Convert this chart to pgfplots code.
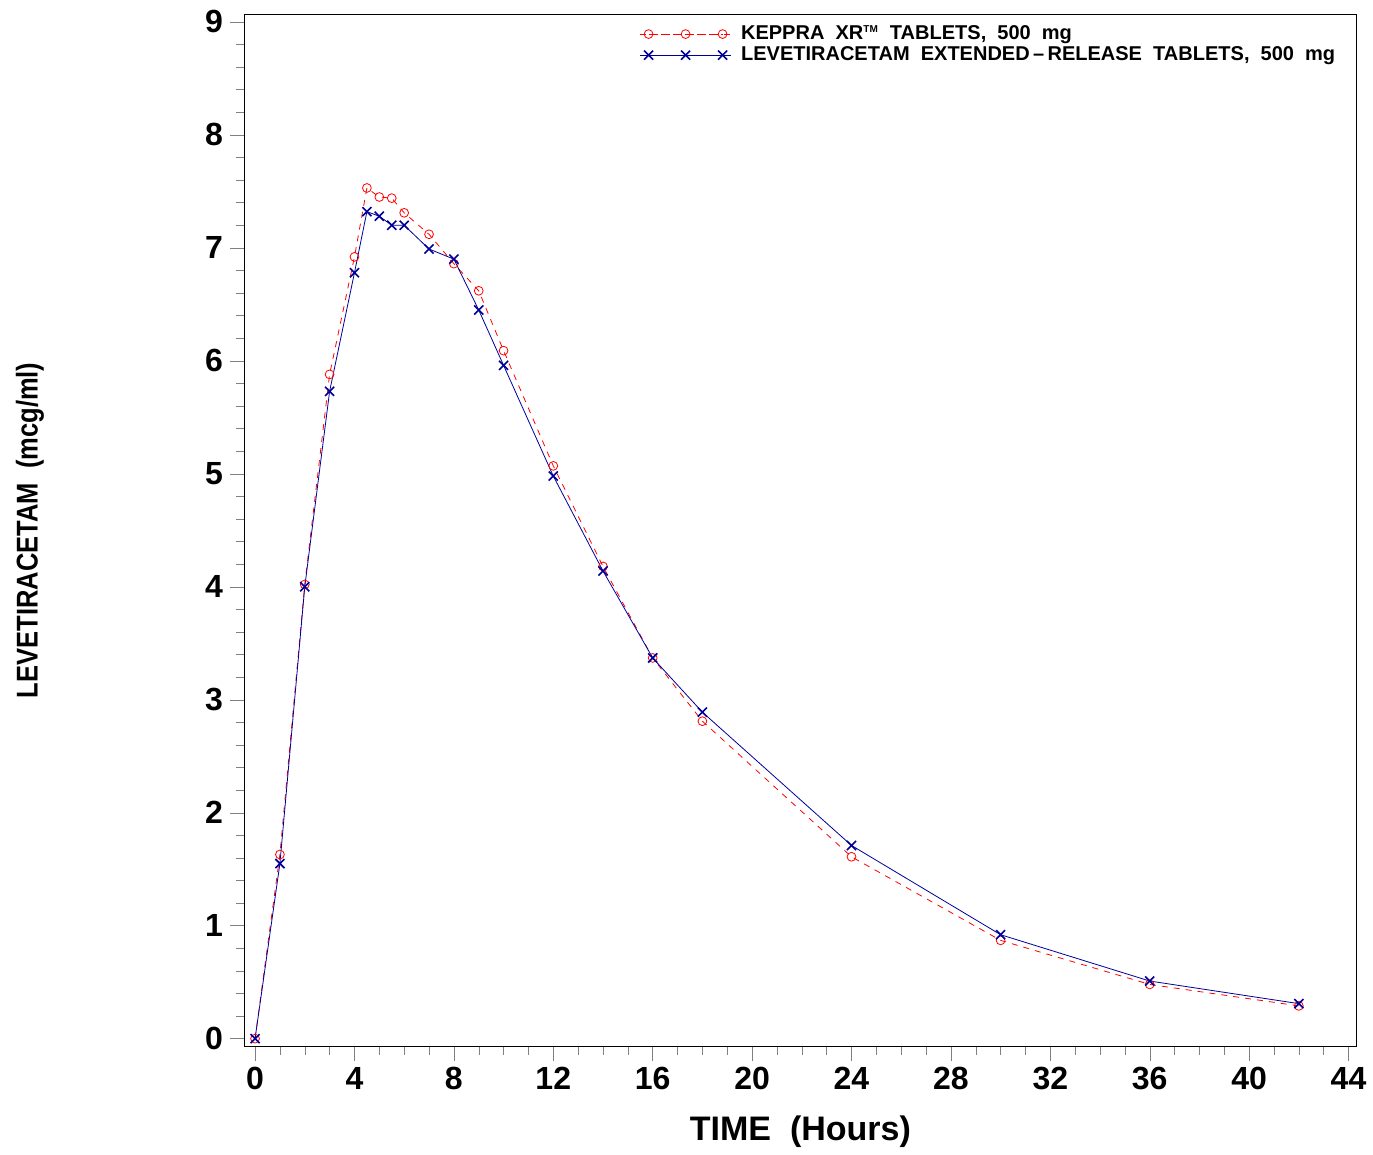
\documentclass[border=0pt]{standalone}
\usepackage{pgfplots}
\pgfplotsset{compat=1.18}
\usepackage{fontspec}
\setmainfont{Liberation Sans}
\begin{document}
\begin{tikzpicture}
\path (-122pt,-51pt) rectangle (564pt,523pt);
\begin{axis}[scale only axis, width=556pt, height=516pt, at={(0,0)},
 xmin=-0.44, xmax=44.33, ymin=-0.07, ymax=9.07,
 xtick={0,4,...,44}, ytick={0,1,...,9},
 minor x tick num=3, minor y tick num=4,
 tick align=outside, xtick pos=bottom, ytick pos=left,
 major tick length=7pt, minor tick length=4pt,
 /pgf/number format/assume math mode=true,
 ticklabel style={font=\fontsize{16}{16}\selectfont\bfseries},
 xlabel={\fontsize{17}{17}\selectfont\bfseries TIME\ \ (Hours)},
 xlabel style={yshift=-6pt},
 legend style={draw=none, at={(0.99,0.997)}, anchor=north east, font=\fontsize{10}{11}\selectfont\bfseries, row sep=-2pt, fill=none},
 legend cell align=left,
 legend image code/.code={\draw[#1] (0cm,0cm) -- (1.6cm,0cm) plot coordinates {(0.15cm,0cm)(0.8cm,0cm)(1.45cm,0cm)};},
]
\addplot[red, dashed, mark=o, mark options={solid, scale=1.1}] coordinates {
(0,0)(1,1.63)(2,4.02)(3,5.88)(4,6.92)(4.5,7.53)(5,7.45)(5.5,7.44)(6,7.31)(7,7.12)(8,6.86)(9,6.62)(10,6.09)(12,5.07)(14,4.18)(16,3.37)(18,2.81)(24,1.61)(30,0.87)(36,0.48)(42,0.29)};
\addlegendentry{\ KEPPRA\ \ XR\textsuperscript{\tiny TM}\ \ TABLETS,\ \ 500\ \ mg}
\addplot[blue!60!black, mark=x, mark options={scale=1.6, thick}] coordinates {
(0,0)(1,1.55)(2,4.0)(3,5.73)(4,6.78)(4.5,7.32)(5,7.28)(5.5,7.2)(6,7.2)(7,6.99)(8,6.9)(9,6.45)(10,5.96)(12,4.98)(14,4.14)(16,3.37)(18,2.89)(24,1.71)(30,0.92)(36,0.51)(42,0.31)};
\addlegendentry{\ LEVETIRACETAM\ \ EXTENDED\,--\,RELEASE\ \ TABLETS,\ \ 500\ \ mg}
\end{axis}
\node[rotate=90, xscale=0.85] at (-107pt,258pt) {\fontsize{15}{15}\selectfont\bfseries LEVETIRACETAM\ \ (mcg/ml)};
\end{tikzpicture}
\end{document}
